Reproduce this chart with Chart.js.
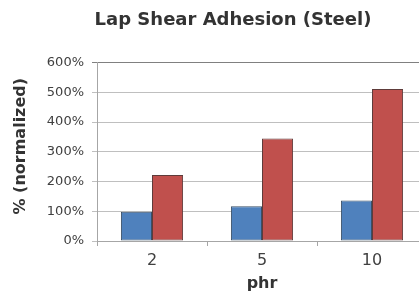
<!DOCTYPE html>
<html>
<head>
<meta charset="utf-8">
<script src="https://cdn.jsdelivr.net/npm/chart.js@4"></script>
<style>
  html, body { margin: 0; padding: 0; background: #fff; overflow: hidden; }
  #wrap { width: 419px; height: 293px; overflow: hidden; }
  canvas { display: block; }
</style>
</head>
<body>
<div id="wrap"><canvas id="chart" width="459" height="293"></canvas></div>
<script>
const categories = ['2', '5', '10'];
const seriesA = [98, 117, 136];   // blue bars
const seriesB = [222, 345, 511];  // red bars
const yTicks = [0, 100, 200, 300, 400, 500, 600];

const FONT = 'DejaVu Sans, Arial, sans-serif';

const ctx = document.getElementById('chart').getContext('2d');

new Chart(ctx, {
  type: 'bar',
  data: {
    labels: categories,
    datasets: [
      {
        data: seriesA,
        backgroundColor: '#4F81BD',
        borderColor: '#3a4f66',
        borderWidth: 1,
        borderSkipped: false,
      },
      {
        data: seriesB,
        backgroundColor: '#C0504D',
        borderColor: '#5e3b3a',
        borderWidth: 1,
        borderSkipped: false,
      },
    ],
  },
  options: {
    responsive: false,
    animation: false,
    layout: { padding: { left: 7, right: 0, top: 0, bottom: 0 } },
    datasets: { bar: { categoryPercentage: 0.565, barPercentage: 1 } },
    plugins: {
      legend: { display: false },
      tooltip: { enabled: false },
      title: {
        display: true,
        text: 'Lap Shear Adhesion (Steel)',
        color: '#333333',
        font: { family: FONT, size: 18, weight: 'bold' },
        padding: { top: 10, bottom: 31 },
      },
    },
    scales: {
      x: {
        grid: {
          drawOnChartArea: false,
          offset: true,
          tickLength: 5,
          color: '#a6a6a6',
        },
        border: { color: '#a6a6a6' },
        ticks: {
          color: '#404040',
          padding: 5,
          font: { family: FONT, size: 16 },
        },
        title: {
          display: true,
          text: 'phr',
          color: '#333333',
          padding: { top: 0, bottom: 0 },
          font: { family: FONT, size: 16, weight: 'bold' },
        },
        afterFit: (scale) => { scale.height = 52; },
      },
      y: {
        min: 0,
        max: 600,
        afterBuildTicks: (scale) => {
          scale.ticks = yTicks.map((v) => ({ value: v }));
        },
        grid: {
          tickLength: 5,
          color: (c) => (c.tick && c.tick.value === 600 ? '#808080' : '#bfbfbf'),
        },
        border: { color: '#a6a6a6' },
        ticks: {
          color: '#404040',
          padding: 8,
          font: { family: FONT, size: 13 },
          callback: (v) => v + '%',
        },
        title: {
          display: true,
          text: '  % (normalized)', // leading spaces nudge it up a bit
          color: '#333333',
          padding: { top: 4, bottom: 4 },
          font: { family: FONT, size: 16, weight: 'bold' },
        },
        afterFit: (scale) => { scale.width = 90; },
      },
      // empty spacer on the right so the plot runs off the cropped edge
      yRight: {
        position: 'right',
        display: true,
        grid: { display: false },
        border: { display: false },
        ticks: { display: false },
        afterFit: (scale) => { scale.width = 32; },
      },
    },
  },
});
</script>
</body>
</html>
